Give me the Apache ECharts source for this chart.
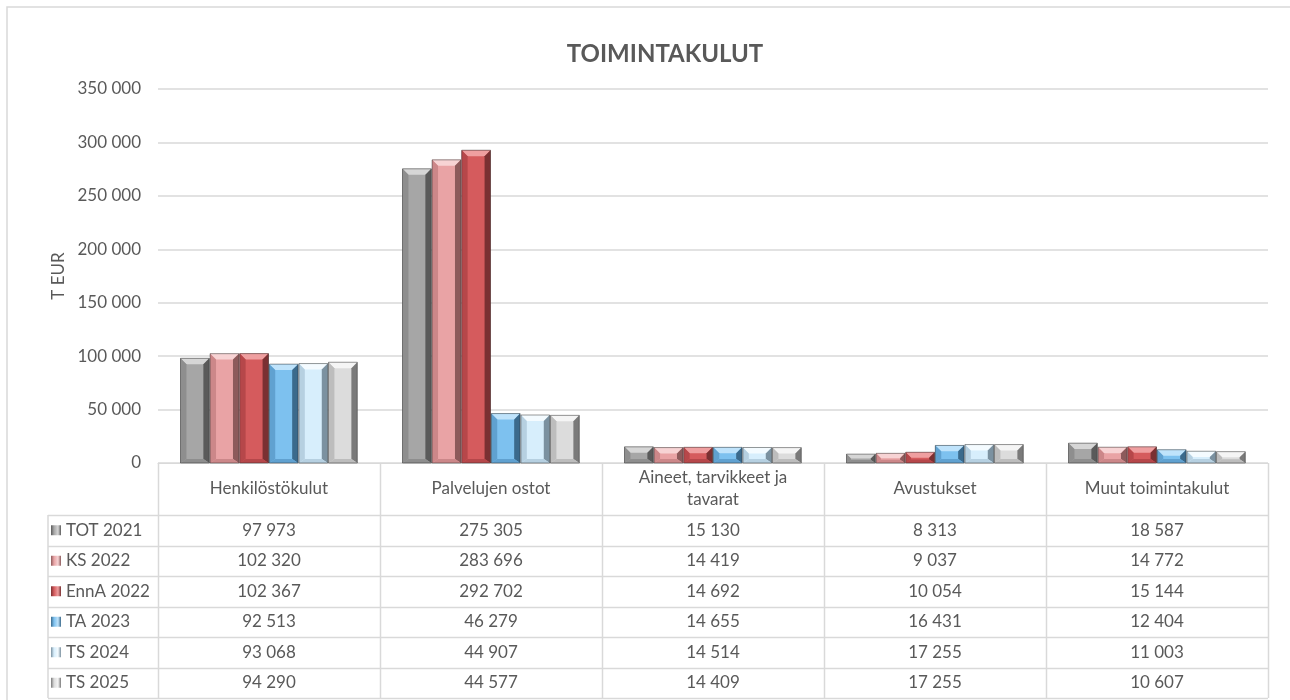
<!DOCTYPE html>
<html><head><meta charset="utf-8">
<script src="https://cdn.jsdelivr.net/npm/echarts@6/dist/echarts.min.js"></script>
<style>html,body{margin:0;padding:0;background:#fff}#c{width:1290px;height:700px}</style>
</head><body><div id="c"></div>
<script>
var categories = ['Henkilöstökulut', 'Palvelujen ostot', 'Aineet, tarvikkeet ja tavarat', 'Avustukset', 'Muut toimintakulut'];
var seriesNames = ['TOT 2021', 'KS 2022', 'EnnA 2022', 'TA 2023', 'TS 2024', 'TS 2025'];
var tot2021 = [97973, 275305, 15130, 8313, 18587];
var ks2022 = [102320, 283696, 14419, 9037, 14772];
var enna2022 = [102367, 292702, 14692, 10054, 15144];
var ta2023 = [92513, 46279, 14655, 16431, 12404];
var ts2024 = [93068, 44907, 14514, 17255, 11003];
var ts2025 = [94290, 44577, 14409, 17255, 10607];
var yTicks = [0, 50000, 100000, 150000, 200000, 250000, 300000, 350000];
var allData = [tot2021, ks2022, enna2022, ta2023, ts2024, ts2025];

var palette = [
  {main:'#a6a6a6', light:'#d6d6d6', left:'#8e8e8e', dark:'#5a5a5a'},
  {main:'#e9a3a5', light:'#f7d3d4', left:'#cc8789', dark:'#8d5a5b'},
  {main:'#d55b5d', light:'#ef9fa0', left:'#b6474a', dark:'#7a3032'},
  {main:'#7dc1ef', light:'#bfe3fb', left:'#60a1d0', dark:'#3b6a8c'},
  {main:'#d7eefc', light:'#f4fbff', left:'#b6d0e1', dark:'#7b91a0'},
  {main:'#dcdcdc', light:'#f5f5f5', left:'#bdbdbd', dark:'#7a7a7a'}
];
var FONT = 'Lato, "Liberation Sans", sans-serif';
var TXT = '#595959';
var LINE = '#d9d9d9';
var FS = 17;

function fmt(v){ return String(v).replace(/\B(?=(\d{3})+(?!\d))/g, ' '); }

function makeRender(si){
  return function(params, api){
    var cat = api.value(0), val = api.value(1);
    var base = api.coord([cat, 0]);
    var top = api.coord([cat, val]);
    var band = api.size([1, 0])[0];
    var gw = band * 0.8, bw = gw / 6;
    var x0 = base[0] - gw / 2 + si * bw + 0.3, x1 = x0 + bw - 0.8;
    var y0 = top[1], y1 = base[1];
    var h = y1 - y0;
    var d = Math.min(6, bw / 5, h / 2);
    var db = Math.min(4, h / 3);
    var c = palette[si];
    return {type:'group', children:[
      {type:'rect', shape:{x:x0, y:y0, width:x1-x0, height:h}, style:{fill:c.main}},
      {type:'polygon', shape:{points:[[x0,y0],[x1,y0],[x1-d,y0+d],[x0+d,y0+d]]}, style:{fill:c.light}},
      {type:'polygon', shape:{points:[[x0,y0],[x0+d,y0+d],[x0+d,y1-db],[x0,y1]]}, style:{fill:c.left}},
      {type:'polygon', shape:{points:[[x1,y0],[x1,y1],[x1-d,y1-db],[x1-d,y0+d]]}, style:{fill:c.dark}},
      {type:'polygon', shape:{points:[[x0,y1],[x0+d,y1-db],[x1-d,y1-db],[x1,y1]]}, style:{fill:c.left}},
      {type:'rect', shape:{x:x0, y:y0, width:x1-x0, height:h}, style:{fill:'none', stroke:'rgba(40,40,40,0.6)', lineWidth:0.8}}
    ]};
  };
}

var series = allData.map(function(arr, si){
  return {
    type:'custom', name: seriesNames[si],
    renderItem: makeRender(si),
    encode:{x:0, y:1},
    data: arr.map(function(v, i){ return [i, v]; }),
    z: 3
  };
});

var chart = echarts.init(document.getElementById('c'), null, {renderer:'canvas'});
var GL = 158, GR = 1268, GT = 89, GB = 463;
chart.setOption({
  backgroundColor:'#fff',
  animation:false,
  title:{text:'TOIMINTAKULUT', left:660, top:37, textAlign:'center',
    textStyle:{fontFamily:FONT, fontSize:24, fontWeight:'bold', color:TXT}},
  grid:{left:GL, right:1290-GR, top:GT, bottom:700-GB, containLabel:false},
  xAxis:{type:'category', data:categories,
    axisLine:{show:true, lineStyle:{color:LINE, width:1}},
    axisTick:{show:false},
    axisLabel:{margin:26, verticalAlign:'middle', interval:0, fontFamily:FONT, fontSize:FS, color:TXT, lineHeight:22,
      formatter:function(v){ return v.replace(' ja ', ' ja\n'); }},
    splitLine:{show:false}
  },
  yAxis:{type:'value', min:yTicks[0], max:yTicks[yTicks.length-1], interval:50000,
    name:'T EUR', nameLocation:'middle', nameGap:88, nameRotate:90,
    nameTextStyle:{fontFamily:FONT, fontSize:FS, color:TXT},
    axisLine:{show:false}, axisTick:{show:false},
    axisLabel:{margin:17, fontFamily:FONT, fontSize:FS, color:TXT, formatter:function(v){ return fmt(v); }},
    splitLine:{lineStyle:{color:LINE, width:1.5}}
  },
  series: series
});

// data table
var g = [];
var rowTop = 515, rowH = 30.5, legL = 48, nRows = seriesNames.length;
var bottom = rowTop + rowH * nRows;
g.push({type:'rect', shape:{x:7, y:7, width:1300, height:720}, style:{fill:'none', stroke:LINE, lineWidth:1.5}, silent:true});
var cw = (GR - GL) / categories.length;
for (var k = 0; k <= categories.length; k++){
  var xx = Math.round(GL + k * cw) + 0.5;
  g.push({type:'line', shape:{x1:xx, y1:GB, x2:xx, y2:bottom}, style:{stroke:LINE, lineWidth:1.5}});
}
g.push({type:'line', shape:{x1:legL, y1:rowTop, x2:legL, y2:bottom}, style:{stroke:LINE, lineWidth:1.5}});
for (var r = 0; r <= nRows; r++){
  var yy = Math.round(rowTop + r * rowH) + 0.5;
  g.push({type:'line', shape:{x1:legL, y1:yy, x2:GR, y2:yy}, style:{stroke:LINE, lineWidth:1.5}});
}
for (var s = 0; s < nRows; s++){
  var cy = rowTop + s * rowH + rowH / 2;
  var c = palette[s];
  g.push({type:'rect', shape:{x:51, y:cy-5, width:10, height:10},
    style:{fill:{type:'linear', x:0, y:0, x2:1, y2:0, colorStops:[{offset:0, color:c.dark},{offset:0.3, color:c.main},{offset:0.7, color:c.light},{offset:1, color:c.dark}]}}});
  g.push({type:'text', x:66, y:cy, style:{text:seriesNames[s], fontFamily:FONT, fontSize:FS, fill:TXT, verticalAlign:'middle', align:'left'}});
  for (var k2 = 0; k2 < categories.length; k2++){
    g.push({type:'text', x:GL + (k2 + 0.5) * cw, y:cy, style:{text:fmt(allData[s][k2]), fontFamily:FONT, fontSize:FS, fill:TXT, verticalAlign:'middle', align:'center'}});
  }
}
chart.setOption({graphic:{elements:g}});
</script>
</body></html>
